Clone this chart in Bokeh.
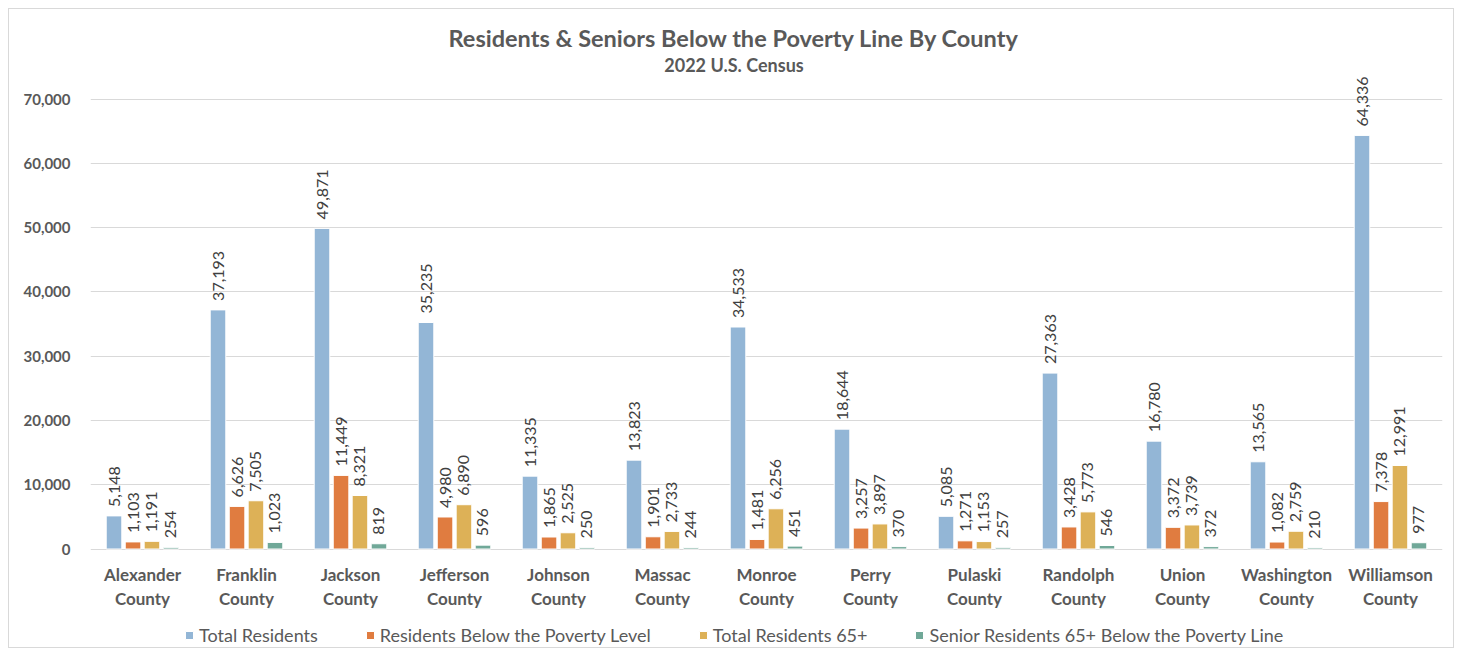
import math
from bokeh.plotting import figure
from bokeh.models import (ColumnDataSource, FactorRange, FixedTicker, NumeralTickFormatter,
                          Legend, LegendItem, Label, Range1d)
from bokeh.transform import dodge
from bokeh.core.properties import value
from bokeh.embed import file_html
from bokeh.resources import INLINE

counties = ["Alexander County", "Franklin County", "Jackson County", "Jefferson County",
            "Johnson County", "Massac County", "Monroe County", "Perry County",
            "Pulaski County", "Randolph County", "Union County", "Washington County",
            "Williamson County"]
total_residents = [5148, 37193, 49871, 35235, 11335, 13823, 34533, 18644, 5085, 27363, 16780, 13565, 64336]
below_poverty = [1103, 6626, 11449, 4980, 1865, 1901, 1481, 3257, 1271, 3428, 3372, 1082, 7378]
total_65 = [1191, 7505, 8321, 6890, 2525, 2733, 6256, 3897, 1153, 5773, 3739, 2759, 12991]
senior_poverty = [254, 1023, 819, 596, 250, 244, 451, 370, 257, 546, 372, 210, 977]
series_names = ["Total Residents", "Residents Below the Poverty Level",
                "Total Residents 65+", "Senior Residents 65+ Below the Poverty Line"]
y_ticks = [0, 10000, 20000, 30000, 40000, 50000, 60000, 70000]
title_text = "Residents & Seniors Below the Poverty Line By County"
subtitle_text = "2022 U.S. Census"

colors = ["#93B6D6", "#E07C40", "#DDB157", "#70A898"]
offsets = [-0.274, -0.091, 0.091, 0.274]
FONT = "Lato"
GRAY = "#595959"

# pixel layout (absolute page px): frame 90..1442 x 9.5..649.5, y=0 at 549, 70000 at 99
FRAME_LEFT, FRAME_TOP, FRAME_BOTTOM, ZERO_Y, TOP_Y = 90, 9.5, 649.5, 549, 99
k = (ZERO_Y - TOP_Y) / 70000.0
y_start = -(FRAME_BOTTOM - ZERO_Y) / k
y_end = (ZERO_Y - FRAME_TOP) / k

series = [total_residents, below_poverty, total_65, senior_poverty]
data = {"county": counties,
        "line1": [c.replace(" County", "") for c in counties],
        "line2": ["County" for c in counties]}
for i, s in enumerate(series):
    data[f"s{i}"] = s
    data[f"l{i}"] = [f"{v:,}" for v in s]
source = ColumnDataSource(data)

p = figure(x_range=FactorRange(*counties, range_padding=0),
           y_range=Range1d(y_start, y_end),
           width=1446, height=640, output_backend="svg", toolbar_location=None,
           min_border_left=81, min_border_right=13, min_border_top=0, min_border_bottom=0)
p.styles = {"margin": "8px 0 0 8px", "border": "1px solid #D9D9D9", "box-sizing": "border-box"}
p.outline_line_color = None
p.background_fill_color = "white"
p.border_fill_color = "white"
p.xaxis.visible = False

renderers = []
for i in range(4):
    r = p.vbar(x=dodge("county", offsets[i], range=p.x_range), top=f"s{i}", width=0.15,
               source=source, fill_color=colors[i], line_color="white", line_width=1)
    renderers.append(r)
    p.text(x=dodge("county", offsets[i], range=p.x_range), y=f"s{i}", text=f"l{i}",
           source=source, angle=math.pi / 2, text_align="left", text_baseline="middle",
           y_offset=-9, text_font=value(FONT), text_font_size="16px", text_color="#404040")

# category labels (two lines) below the baseline
for col, off in (("line1", 25), ("line2", 49)):
    p.text(x="county", y=0, text=col, source=source, text_align="center",
           text_baseline="middle", y_offset=off, text_font=value(FONT),
           text_font_size="17px", text_font_style="bold", text_color=GRAY)

p.yaxis.ticker = FixedTicker(ticks=y_ticks)
p.yaxis.formatter = NumeralTickFormatter(format="0,0")
p.yaxis.axis_line_color = None
p.yaxis.major_tick_line_color = None
p.yaxis.minor_tick_line_color = None
p.yaxis.major_label_text_font = FONT
p.yaxis.major_label_text_font_size = "15px"
p.yaxis.major_label_text_font_style = "bold"
p.yaxis.major_label_text_color = GRAY
p.yaxis.major_label_standoff = 14

p.xgrid.grid_line_color = None
p.ygrid.grid_line_color = "#D9D9D9"
p.ygrid.grid_line_width = 1

legend = Legend(items=[LegendItem(label=series_names[i], renderers=[renderers[i]]) for i in range(4)],
                orientation="horizontal", location=(184 - FRAME_LEFT, 3), spacing=47,
                glyph_width=10, glyph_height=10, label_standoff=5,
                label_text_font=FONT, label_text_font_size="18px", label_text_color=GRAY,
                border_line_color=None, background_fill_alpha=0, padding=0, margin=0)
p.add_layout(legend, "center")

cx = 733.5 - FRAME_LEFT
p.add_layout(Label(x=cx, y=FRAME_BOTTOM - 38, x_units="screen", y_units="screen",
                   text=title_text, text_align="center", text_baseline="middle",
                   text_font=FONT, text_font_size="23.5px", text_font_style="bold",
                   text_color=GRAY))
p.add_layout(Label(x=cx, y=FRAME_BOTTOM - 65, x_units="screen", y_units="screen",
                   text=subtitle_text, text_align="center", text_baseline="middle",
                   text_font=FONT, text_font_size="18px", text_font_style="bold",
                   text_color=GRAY))

open("out.html", "w").write(file_html(p, INLINE))
